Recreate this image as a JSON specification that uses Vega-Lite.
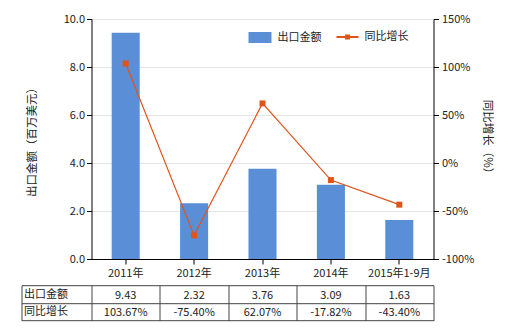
{
  "$schema": "https://vega.github.io/schema/vega-lite/v6.json",
  "padding": {"left": 20.5, "top": 13, "right": 20, "bottom": 8},
  "background": "white",
  "bounds": "flush",
  "spacing": 26.2,
  "config": {
    "font": "Noto Sans CJK SC",
    "view": {"stroke": null},
    "axis": {"labelColor": "#222", "titleColor": "#222", "labelFontSize": 11, "titleFontWeight": "normal", "titleFontSize": 11.5},
    "legend": {"labelColor": "#222", "labelFontSize": 11}
  },
  "datasets": {
    "main": [
      {"年份": "2011年", "出口金额": 9.43, "同比增长": 103.67},
      {"年份": "2012年", "出口金额": 2.32, "同比增长": -75.40},
      {"年份": "2013年", "出口金额": 3.76, "同比增长": 62.07},
      {"年份": "2014年", "出口金额": 3.09, "同比增长": -17.82},
      {"年份": "2015年1-9月", "出口金额": 1.63, "同比增长": -43.40}
    ],
    "table": [
      {"年份": "2011年", "指标": "出口金额", "值": "9.43"},
      {"年份": "2012年", "指标": "出口金额", "值": "2.32"},
      {"年份": "2013年", "指标": "出口金额", "值": "3.76"},
      {"年份": "2014年", "指标": "出口金额", "值": "3.09"},
      {"年份": "2015年1-9月", "指标": "出口金额", "值": "1.63"},
      {"年份": "2011年", "指标": "同比增长", "值": "103.67%"},
      {"年份": "2012年", "指标": "同比增长", "值": "-75.40%"},
      {"年份": "2013年", "指标": "同比增长", "值": "62.07%"},
      {"年份": "2014年", "指标": "同比增长", "值": "-17.82%"},
      {"年份": "2015年1-9月", "指标": "同比增长", "值": "-43.40%"}
    ]
  },
  "vconcat": [
    {
      "width": 342,
      "height": 240,
      "data": {"name": "main"},
      "encoding": {
        "x": {
          "field": "年份", "type": "nominal", "sort": null,
          "scale": {"paddingInner": 0, "paddingOuter": 0},
          "axis": {"title": null, "labelAngle": 0, "tickSize": 5, "labelPadding": 3, "domainColor": "#000", "tickColor": "#000", "grid": false}
        }
      },
      "layer": [
        {
          "mark": {"type": "bar", "width": {"band": 0.41}, "color": "#5a8fd8"},
          "encoding": {
            "y": {
              "field": "出口金额", "type": "quantitative",
              "scale": {"domain": [0, 10], "nice": false},
              "axis": {"orient": "left", "values": [0, 2, 4, 6, 8, 10], "format": ".1f", "title": "出口金额（百万美元）", "grid": true, "gridColor": "#e4e4e4", "domainColor": "#000", "tickColor": "#000", "tickSize": 5, "labelPadding": 2, "titlePadding": 26}
            },
            "color": {
              "datum": "出口金额",
              "scale": {"range": ["#5a8fd8"]},
              "legend": {"title": null, "orient": "none", "legendX": 156, "legendY": 6, "symbolType": "M-1,-0.48H1V0.48H-1Z", "symbolSize": 529, "symbolOpacity": 1, "labelOffset": 5}
            }
          }
        },
        {
          "encoding": {
            "y": {
              "field": "同比增长", "type": "quantitative",
              "scale": {"domain": [-100, 150], "nice": false},
              "axis": {"orient": "right", "values": [-100, -50, 0, 50, 100, 150], "labelExpr": "datum.value + '%'", "title": "同比增长（%）", "grid": false, "domainColor": "#000", "tickColor": "#000", "tickSize": 5, "labelPadding": 3, "titlePadding": 8}
            }
          },
          "layer": [
            {
              "mark": {"type": "line", "strokeWidth": 1.2},
              "encoding": {
                "stroke": {
                  "datum": "同比增长",
                  "scale": {"range": ["#e0531b"]},
                  "legend": {"title": null, "orient": "none", "legendX": 244, "legendY": 6, "symbolType": "M-1,0H1M-0.14,-0.14H0.14V0.14H-0.14Z", "symbolSize": 484, "symbolStrokeWidth": 2, "symbolFillColor": "#e0531b", "labelOffset": 5}
                }
              }
            },
            {
              "mark": {"type": "square", "size": 36, "filled": true, "opacity": 1, "color": "#e0531b"}
            }
          ]
        }
      ],
      "resolve": {"scale": {"y": "independent"}}
    },
    {
      "width": 342,
      "height": 35.3,
      "data": {"name": "table"},
      "mark": {"type": "text", "fontSize": 11, "dy": 1.5, "color": "#222"},
      "encoding": {
        "x": {
          "field": "年份", "type": "nominal", "sort": ["2011年", "2012年", "2013年", "2014年", "2015年1-9月"],
          "scale": {"paddingInner": 0, "paddingOuter": 0},
          "axis": {"title": null, "labels": false, "ticks": false, "domain": false, "grid": true, "tickBand": "extent", "gridColor": "#444", "gridOpacity": 1}
        },
        "y": {
          "field": "指标", "type": "nominal", "sort": ["出口金额", "同比增长"],
          "scale": {"paddingInner": 0, "paddingOuter": 0},
          "axis": {"title": null, "orient": "left", "offset": 70, "domain": true, "domainColor": "#444", "ticks": true, "tickSize": -70, "tickColor": "#444", "tickBand": "extent", "grid": true, "gridColor": "#444", "gridOpacity": 1, "labelAlign": "left", "labelPadding": 68, "labelFontSize": 11}
        },
        "text": {"field": "值"}
      }
    }
  ]
}
